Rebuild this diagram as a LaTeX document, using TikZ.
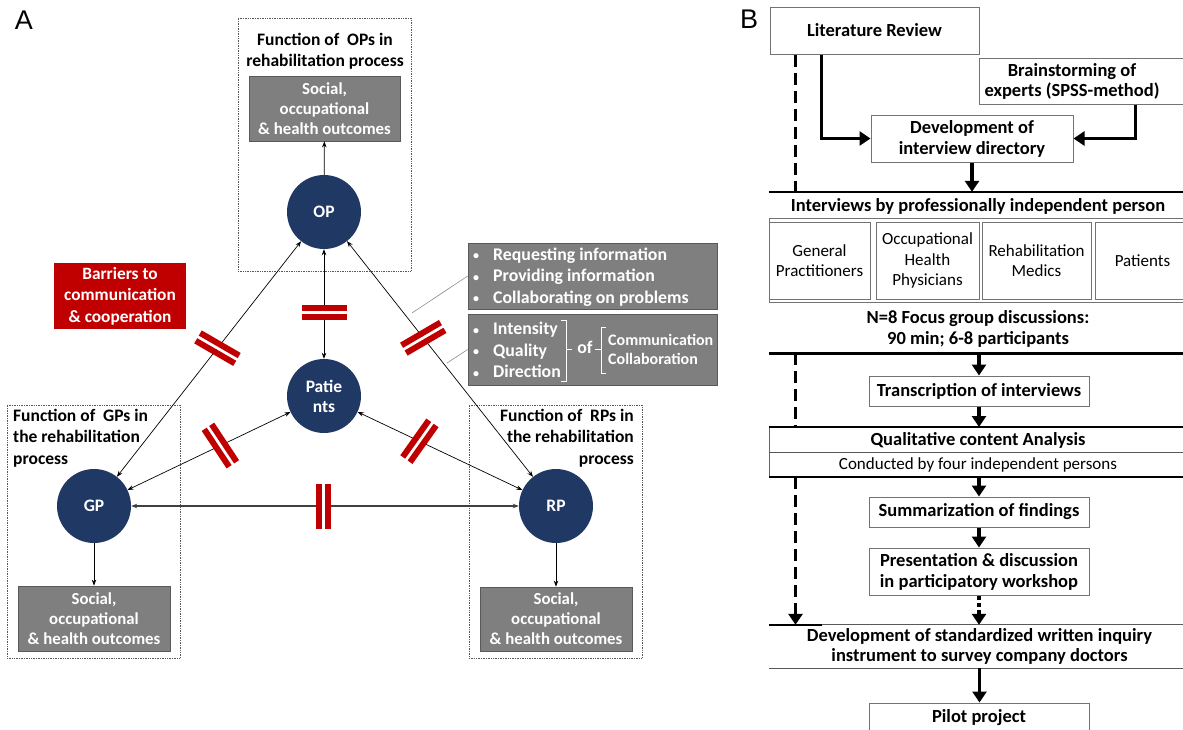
\documentclass[tikz,border=0pt]{standalone}
\usepackage{fontspec}
\setmainfont{Carlito}
\newfontfamily\labfont{Liberation Sans}
\usetikzlibrary{arrows.meta,calc}
\definecolor{navy}{HTML}{1F3864}
\definecolor{boxgray}{HTML}{7F7F7F}
\definecolor{boxedge}{HTML}{595959}
\definecolor{barred}{HTML}{C00000}
\newcommand{\smbul}{\makebox[20pt][l]{\raisebox{0.5pt}{\fontsize{12}{12}\selectfont\textbullet}}}
\tikzset{
  pics/barrier/.style={code={
    \begin{scope}[rotate=#1]
      \fill[white] (-1.5,-22.5) rectangle (1.5,22.5);
      \fill[barred] (-7.5,-22.5) rectangle (-1.5,22.5);
      \fill[barred] (1.5,-22.5) rectangle (7.5,22.5);
    \end{scope}}},
  pics/barrier/.default=0
}
\begin{document}
\begin{tikzpicture}[x=1pt,y=-1pt,
  circ/.style={circle,fill=navy,minimum size=74pt,inner sep=0pt,text=white,font=\bfseries\fontsize{17.5}{20}\selectfont,align=center},
  outcome/.style={rectangle,fill=boxgray,draw=boxedge,line width=0.8pt,text=white,align=center,font=\bfseries\fontsize{16.8}{20}\selectfont,inner sep=0pt},
  dotframe/.style={draw=black!65,densely dotted,line width=0.7pt,inner sep=0pt,minimum width=173pt,minimum height=253pt},
  ttl/.style={font=\bfseries\fontsize{17.5}{21.5}\selectfont,inner sep=0pt},
  rttl/.style={font=\bfseries\fontsize{18.5}{21}\selectfont,inner sep=0pt},
  link/.style={{Stealth[length=6pt,width=4.5pt]}-{Stealth[length=6pt,width=4.5pt]},line width=0.7pt},
  oneway/.style={-{Stealth[length=6pt,width=4.5pt]},line width=0.7pt},
  infobox/.style={rectangle,fill=boxgray,draw=boxedge,line width=0.6pt,inner sep=0pt,minimum width=249pt},
  infotxt/.style={text=white,font=\bfseries\fontsize{17.8}{21.5}\selectfont,align=left,inner sep=0pt,anchor=west},
  stepbx/.style={draw=black!55,line width=1pt,fill=white,align=center,font=\bfseries\fontsize{18.5}{21}\selectfont,inner sep=0pt},
  grpbx/.style={draw=black!55,line width=0.9pt,fill=white,align=center,font=\fontsize{17}{20.5}\selectfont,inner sep=0pt,minimum height=77pt},
  bigarrow/.style={line width=3.5pt,-{Triangle[length=11pt,width=14pt]}},
  thickrule/.style={line width=2.6pt},
  thinrule/.style={line width=1pt,black!65},
  dashline/.style={line width=3.5pt,dash pattern=on 12pt off 6pt},
]
\useasboundingbox (0,0) rectangle (1183,729);
\fill[white] (0,0) rectangle (1183,729);

% ---------------- Panel A ----------------
\node[font=\labfont\fontsize{27}{27}\selectfont,inner sep=0pt] (labA) at (24,20) {A};

\node[dotframe] (opF) at (324.5,144.5) {};
\node[ttl,align=center] (opT) at (325,51) {Function of\ \ OPs in\\rehabilitation process};
\node[outcome,minimum width=151pt,minimum height=65pt] (opO) at (324.5,108.5) {Social,\\occupational\\\& health outcomes};

\node[dotframe] (gpF) at (93.5,531.5) {};
\node[ttl,align=left,anchor=west] (gpT) at (13,438) {Function of\ \ GPs in\\the rehabilitation\\process};
\node[outcome,minimum width=152pt,minimum height=65pt] (gpO) at (94,618.5) {Social,\\occupational\\\& health outcomes};

\node[dotframe] (rpF) at (555.5,531.5) {};
\node[ttl,align=right,anchor=east] (rpT) at (634,438) {Function of\ \ RPs in\\the rehabilitation\\process};
\node[outcome,minimum width=152pt,minimum height=64pt] (rpO) at (556,619) {Social,\\occupational\\\& health outcomes};

\node[fill=barred,text=white,align=center,font=\bfseries\fontsize{17.3}{21.5}\selectfont,minimum width=132pt,minimum height=66pt,inner sep=0pt] (bar) at (120,296) {Barriers to\\communication\\\& cooperation};

\node[infobox,minimum height=66pt] (info1) at (592.5,276) {};
\node[infotxt] (info1t) at (473,277) {\smbul Requesting information\\\smbul Providing information\\\smbul Collaborating on problems};
\node[infobox,minimum height=71pt] (info2) at (592.5,349.5) {};
\node[infotxt] (info2t) at (473,350) {\smbul Intensity\\\smbul Quality\\\smbul Direction};
\node[infotxt,anchor=center] (ofT) at (585,347) {of};
\node[infotxt,font=\bfseries\fontsize{16}{19}\selectfont] (commT) at (608,349) {Communication\\Collaboration};
\draw[white,line width=0.7pt] (561,320) -- (566,320) -- (566,381) -- (561,381);
\draw[white,line width=0.7pt] (566,349) -- (572,349);
\draw[white,line width=0.7pt] (595,349) -- (601,349);
\draw[white,line width=0.7pt] (606,327) -- (601,327) -- (601,373) -- (606,373);

\coordinate (c1) at (412,313);
\coordinate (c2) at (447,363);
\draw[black!45,line width=0.6pt] (c1) -- (info1.west);
\draw[black!45,line width=0.6pt] (c2) -- (info2.west);

\node[circ] (OP) at (324,212) {OP};
\node[circ] (PAT) at (324,396) {Patie\\nts};
\node[circ] (GP) at (94,506) {GP};
\node[circ] (RP) at (556,506) {RP};

\draw[link] (GP) -- (OP);
\draw[link] (OP) -- (PAT);
\draw[link] (OP) -- (RP);
\draw[link] (GP) -- (PAT);
\draw[link] (PAT) -- (RP);
\draw[link,line width=1.1pt,black!75] (GP) -- (RP);
\draw[oneway] (OP) -- (opO);
\draw[oneway] (GP) -- (gpO);
\draw[oneway] (RP) -- (rpO);

\path (GP) -- (OP) pic[pos=0.546,sloped]{barrier=8};
\path (OP) -- (PAT) pic[pos=0.58,sloped]{barrier=0};
\path (OP) -- (RP) pic[pos=0.41,sloped]{barrier=-8};
\path (GP) -- (PAT) pic[pos=0.57,sloped]{barrier=8};
\path (PAT) -- (RP) pic[pos=0.375,sloped]{barrier=-10};
\path (GP) -- (RP) pic[pos=0.497,sloped]{barrier=0};

% ---------------- Panel B ----------------
\node[font=\labfont\fontsize{27}{27}\selectfont,inner sep=0pt] (labB) at (749,19) {B};

\node[stepbx,minimum width=209pt,minimum height=47pt] (lit) at (874.5,30.5) {Literature Review};
\node[stepbx,minimum width=215pt,minimum height=46pt] (brain) at (1086.5,81) {};
\node[stepbx,draw=none,fill=none,font=\bfseries\fontsize{18.5}{20}\selectfont] (brainT) at (1072,81) {Brainstorming of\\experts (SPSS-method)};
\node[stepbx,minimum width=202pt,minimum height=47pt] (dev) at (972,138.5) {Development of\\interview directory};
\draw[bigarrow] ([xshift=52pt]lit.south west) |- (dev.west);
\draw[bigarrow] ([xshift=157pt]brain.south west) |- (dev.east);

\node[inner sep=0pt,minimum width=420pt,minimum height=161pt] (intv) at (979,272.5) {};
\draw[thickrule] (intv.north west) -- (intv.north east);
\draw[thickrule] (intv.south west) -- (intv.south east);
\node[rttl] (intvT) at (978,206) {Interviews by professionally independent person};
\node[draw=black!55,line width=1pt,inner sep=0pt,minimum width=421pt,minimum height=84pt] (band) at (979.5,260) {};
\node[grpbx,minimum width=101pt] (g1) at (819.5,260.5) {General\\Practitioners};
\node[grpbx,minimum width=103pt] (g2) at (927.5,260.5) {Occupational\\Health\\Physicians};
\node[grpbx,minimum width=109pt] (g3) at (1036.5,260.5) {Rehabilitation\\Medics};
\node[grpbx,minimum width=95pt] (g4) at (1142.5,260.5) {Patients};
\node[rttl,align=center] (focT) at (978,328.5) {N=8 Focus group discussions:\\90 min; 6-8 participants};
\draw[bigarrow] (dev.south) -- (dev.south |- intv.north);

\node[stepbx,minimum width=220pt,minimum height=30pt] (trans) at (979,391) {Transcription of interviews};
\draw[bigarrow] (trans.north |- intv.south) -- (trans.north);

\node[draw=black!60,line width=1pt,inner sep=0pt,minimum width=421pt,minimum height=49pt] (qual) at (979.5,452) {};
\draw[thickrule] (qual.north west) -- (qual.north east);
\draw[thickrule] (qual.south west) -- (qual.south east);
\draw[thinrule] (qual.west) -- (qual.east);
\node[rttl] (qualT) at (978,440) {Qualitative content Analysis};
\node[font=\fontsize{17}{18}\selectfont,inner sep=0pt] (qualS) at (978,464.5) {Conducted by four independent persons};
\draw[bigarrow] (trans.south) -- (trans.south |- qual.north);

\node[stepbx,minimum width=220pt,minimum height=30pt] (summ) at (979,512) {Summarization of findings};
\draw[bigarrow] (summ.north |- qual.south) -- (summ.north);

\node[stepbx,minimum width=220pt,minimum height=47pt] (pres) at (979,571.5) {Presentation \& discussion\\in participatory workshop};
\draw[bigarrow] (summ.south) -- (pres.north);

\node[inner sep=0pt,minimum width=421pt,minimum height=43pt,align=center,font=\bfseries\fontsize{18.5}{20}\selectfont] (dev2) at (979.5,646.5) {Development of standardized written inquiry\\instrument to survey company doctors};
\draw[thinrule] (dev2.north west) -- (dev2.north east);
\draw[thinrule] (dev2.south west) -- (dev2.south east);
\draw[line width=2pt] (dev2.north west) -- ++(53,0);
\draw[bigarrow,dash pattern=on 4pt off 3pt] (pres.south) -- (pres.south |- dev2.north);

\node[stepbx,minimum width=220pt,minimum height=30pt] (pilot) at (979,718) {Pilot project};
\draw[bigarrow] (dev2.south) -- (dev2.south |- pilot.north);

\coordinate (d0) at ($(lit.south west)+(26,0)$);
\draw[dashline] (d0) -- (d0 |- intv.north);
\draw[dashline] (d0 |- intv.south) -- (d0 |- qual.north);
\draw[dashline,-{Triangle[length=11pt,width=14pt]}] (d0 |- qual.south) -- (d0 |- dev2.north);
\end{tikzpicture}
\end{document}
